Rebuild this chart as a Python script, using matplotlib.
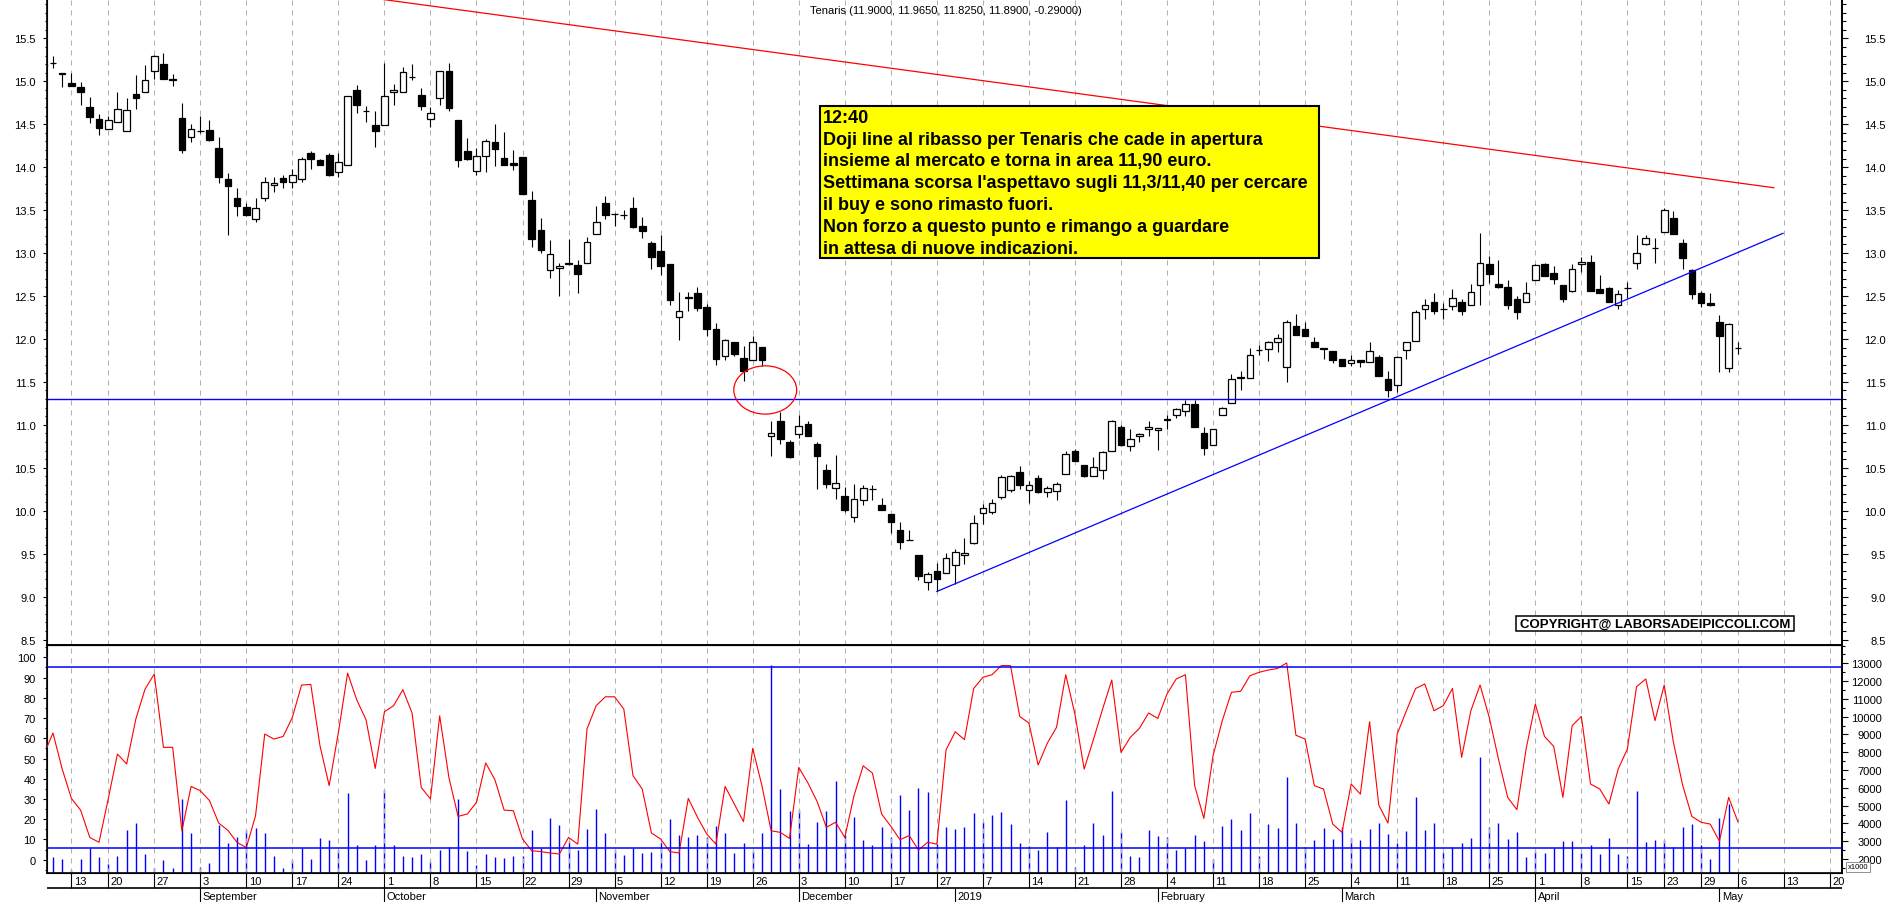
import numpy as np
import pandas as pd
import matplotlib
matplotlib.use("Agg")
import matplotlib.pyplot as plt
from matplotlib.patches import Rectangle, Ellipse
from matplotlib.ticker import MultipleLocator, FixedLocator, FormatStrFormatter, FuncFormatter

plt.rcParams['font.family'] = ['Liberation Sans', 'DejaVu Sans']

# trading calendar, Borsa Italiana closures removed
holidays = ['2018-08-15', '2018-12-24', '2018-12-25', '2018-12-26', '2018-12-31',
            '2019-01-01', '2019-04-19', '2019-04-22', '2019-05-01']
days = pd.bdate_range('2018-08-08', '2019-05-06')
days = days[~days.isin(pd.to_datetime(holidays))]
future = pd.bdate_range('2019-05-07', '2019-05-24')

title = 'Tenaris (11.9000, 11.9650, 11.8250, 11.8900, -0.29000)'

opens = [15.18, 15.21, 15.09,
         14.98, 14.93, 14.70, 14.56,
         14.45, 14.53, 14.42, 14.85, 14.87,
         15.12, 15.20, 15.03, 14.57, 14.35,
         14.42, 14.43, 14.22, 13.86, 13.64,
         13.54, 13.40, 13.64, 13.79, 13.87,
         13.83, 13.86, 14.17, 14.08, 14.14,
         13.94, 14.03, 14.90, 14.65, 14.49,
         14.49, 14.87, 14.88, 15.05, 14.84,
         14.56, 14.81, 15.12, 14.55, 14.19,
         13.95, 14.13, 14.29, 14.11, 14.05,
         14.12, 13.62, 13.27, 12.80, 12.83,
         12.87, 12.86, 12.89, 13.22, 13.58,
         13.45, 13.44, 13.52, 13.31, 13.12,
         13.02, 12.87, 12.25, 12.48, 12.54,
         12.37, 12.12, 11.80, 11.97, 11.78,
         11.75, 11.91, 10.87, 11.04, 10.80,
         10.89, 11.01, 10.78, 10.47, 10.26,
         10.17, 9.93, 10.12, 10.25, 10.07,
         9.96, 9.78, 9.66, 9.48, 9.17,
         9.30, 9.28,
         9.37, 9.49, 9.63,
         9.97, 9.98, 10.16, 10.24, 10.45,
         10.24, 10.38, 10.22, 10.23, 10.43,
         10.69, 10.53, 10.41, 10.47, 10.69,
         10.98, 10.75, 10.87, 10.95, 10.94,
         11.06, 11.11, 11.16, 11.24, 10.90,
         10.77, 11.11, 11.25, 11.55, 11.54,
         11.87, 11.88, 11.97, 11.67, 12.15,
         12.12, 11.97, 11.89, 11.86, 11.77,
         11.72, 11.76, 11.73, 11.79, 11.53,
         11.46, 11.87, 11.98, 12.345, 12.43,
         12.35, 12.38, 12.43, 12.39, 12.63,
         12.87, 12.64, 12.60, 12.47, 12.43,
         12.69, 12.87, 12.77, 12.63, 12.56,
         12.87, 12.90, 12.58, 12.59, 12.40,
         12.59, 12.88, 13.11, 13.06,
         13.24, 13.41, 13.12, 12.80,
         12.54, 12.42, 12.20, 11.66,
         11.90]

highs = [15.25, 15.30, 15.09,
         15.10, 14.99, 14.82, 14.62,
         14.60, 14.87, 14.81, 15.07, 15.19,
         15.31, 15.33, 15.09, 14.75, 14.50,
         14.60, 14.55, 14.35, 13.93, 13.76,
         13.58, 13.64, 13.88, 13.88, 13.91,
         13.98, 14.12, 14.19, 14.10, 14.17,
         14.16, 14.83, 14.96, 14.71, 14.65,
         15.21, 14.97, 15.17, 15.20, 14.92,
         14.70, 15.12, 15.21, 14.55, 14.34,
         14.22, 14.33, 14.50, 14.41, 14.20,
         14.12, 13.72, 13.41, 13.15, 12.89,
         13.16, 12.92, 13.19, 13.55, 13.67,
         13.47, 13.50, 13.65, 13.42, 13.14,
         13.21, 12.87, 12.55, 12.55, 12.60,
         12.41, 12.19, 12.00, 11.97, 11.92,
         12.03, 11.91, 11.05, 11.15, 10.82,
         11.11, 11.05, 10.80, 10.55, 10.65,
         10.28, 10.31, 10.30, 10.30, 10.15,
         9.96, 9.87, 9.78, 9.48, 9.29,
         9.39, 9.51,
         9.56, 9.68, 9.95,
         10.08, 10.14, 10.42, 10.42, 10.52,
         10.35, 10.42, 10.29, 10.33, 10.70,
         10.72, 10.53, 10.62, 10.70, 11.06,
         11.00, 10.95, 10.91, 11.04, 10.96,
         11.11, 11.20, 11.29, 11.29, 10.97,
         10.95, 11.21, 11.59, 11.63, 11.89,
         11.93, 11.98, 12.06, 12.22, 12.29,
         12.20, 12.02, 11.90, 11.86, 11.77,
         11.81, 11.76, 11.96, 11.81, 11.63,
         11.80, 11.97, 12.34, 12.47, 12.54,
         12.42, 12.58, 12.47, 12.64, 13.23,
         12.97, 12.92, 12.69, 12.50, 12.66,
         12.87, 12.89, 12.85, 12.63, 12.87,
         12.95, 12.98, 12.75, 12.61, 12.57,
         12.66, 13.21, 13.21, 13.18,
         13.53, 13.49, 13.16, 12.81,
         12.56, 12.54, 12.28, 12.19,
         11.965]

lows = [15.12, 15.15, 14.93,
        14.95, 14.72, 14.51, 14.37,
        14.45, 14.53, 14.42, 14.68, 14.87,
        15.03, 15.03, 14.95, 14.17, 14.29,
        14.40, 14.31, 13.82, 13.21, 13.43,
        13.43, 13.36, 13.61, 13.71, 13.76,
        13.76, 13.83, 13.98, 14.02, 13.90,
        13.89, 14.03, 14.63, 14.53, 14.24,
        14.49, 14.72, 14.88, 15.01, 14.66,
        14.47, 14.72, 14.65, 14.00, 14.08,
        13.91, 13.94, 14.01, 14.03, 13.97,
        13.69, 13.07, 13.00, 12.71, 12.50,
        12.86, 12.54, 12.89, 13.22, 13.40,
        13.32, 13.40, 13.29, 13.17, 12.81,
        12.74, 12.39, 11.99, 12.32, 12.32,
        12.03, 11.70, 11.75, 11.80, 11.51,
        11.75, 11.68, 10.64, 10.78, 10.61,
        10.85, 10.87, 10.25, 10.27, 10.14,
        9.98, 9.87, 10.07, 10.13, 10.01,
        9.74, 9.56, 9.66, 9.19, 9.08,
        9.07, 9.28,
        9.15, 9.38, 9.61,
        9.85, 9.96, 10.14, 10.22, 10.25,
        10.09, 10.21, 10.16, 10.13, 10.43,
        10.58, 10.39, 10.41, 10.37, 10.69,
        10.75, 10.69, 10.80, 10.87, 10.71,
        10.95, 11.08, 11.10, 10.98, 10.65,
        10.77, 11.11, 11.25, 11.40, 11.54,
        11.81, 11.74, 11.85, 11.50, 12.05,
        12.04, 11.91, 11.77, 11.72, 11.68,
        11.68, 11.67, 11.73, 11.57, 11.33,
        11.38, 11.77, 11.98, 12.23, 12.29,
        12.23, 12.34, 12.28, 12.39, 12.39,
        12.65, 12.59, 12.35, 12.23, 12.43,
        12.69, 12.73, 12.64, 12.43, 12.55,
        12.78, 12.56, 12.53, 12.43, 12.35,
        12.48, 12.82, 13.09, 12.89,
        13.24, 13.22, 12.81, 12.47,
        12.37, 12.38, 11.62, 11.62,
        11.825]

closes = [15.20, 15.215, 15.09,
          14.95, 14.88, 14.58, 14.46,
          14.55, 14.68, 14.66, 14.80, 15.02,
          15.29, 15.03, 15.02, 14.20, 14.45,
          14.42, 14.32, 13.89, 13.78, 13.55,
          13.44, 13.52, 13.83, 13.81, 13.83,
          13.91, 14.10, 14.10, 14.02, 13.91,
          14.06, 14.83, 14.72, 14.65, 14.42,
          14.83, 14.90, 15.11, 15.05, 14.71,
          14.63, 15.12, 14.69, 14.08, 14.09,
          14.13, 14.30, 14.21, 14.03, 14.02,
          13.69, 13.16, 13.03, 12.99, 12.85,
          12.89, 12.76, 13.13, 13.36, 13.44,
          13.45, 13.44, 13.30, 13.26, 12.96,
          12.85, 12.45, 12.33, 12.48, 12.36,
          12.12, 11.77, 11.99, 11.83, 11.63,
          11.97, 11.75, 10.90, 10.84, 10.62,
          10.99, 10.87, 10.64, 10.31, 10.32,
          10.01, 10.14, 10.27, 10.25, 10.01,
          9.87, 9.64, 9.66, 9.24, 9.26,
          9.20, 9.45,
          9.52, 9.51, 9.86,
          10.03, 10.09, 10.39, 10.41, 10.30,
          10.30, 10.22, 10.27, 10.31, 10.66,
          10.58, 10.41, 10.51, 10.68, 11.05,
          10.76, 10.84, 10.89, 10.97, 10.96,
          11.06, 11.18, 11.24, 10.98, 10.73,
          10.95, 11.20, 11.53, 11.55, 11.81,
          11.87, 11.96, 12.01, 12.20, 12.05,
          12.04, 11.91, 11.88, 11.75, 11.68,
          11.75, 11.73, 11.86, 11.57, 11.40,
          11.79, 11.97, 12.31, 12.39, 12.32,
          12.35, 12.48, 12.32, 12.55, 12.89,
          12.76, 12.60, 12.39, 12.31, 12.54,
          12.86, 12.73, 12.70, 12.46, 12.82,
          12.90, 12.56, 12.53, 12.43, 12.52,
          12.59, 13.00, 13.17, 13.06,
          13.50, 13.22, 12.94, 12.52,
          12.42, 12.39, 12.04, 12.18,
          11.89]

# oscillator (left scale 0-100)
oscillator = [51.9, 62.6, 44.8,
              30.3, 24.5, 11.0, 8.6,
              30.0, 52.2, 47.3, 69.5, 84.3,
              91.7, 55.5, 55.5, 14.3, 36.2,
              34.1, 29.2, 18.1, 14.5, 8.5,
              6.0, 21.7, 62.1, 59.6, 60.9,
              70.3, 86.3, 86.6, 56.3, 36.6,
              62.9, 92.2, 78.9, 69.2, 45.1,
              73.1, 76.1, 84.0, 72.5, 35.7,
              30.0, 71.1, 40.7, 21.4, 22.6,
              28.3, 47.8, 39.5, 24.5, 24.2,
              10.2, 4.4, 4.0, 3.3, 2.8,
              11.0, 7.7, 64.6, 76.1, 80.5,
              80.5, 74.4, 41.5, 34.9, 13.2,
              10.2, 4.0, 3.3, 30.3, 21.0,
              12.7, 7.7, 36.2, 27.5, 18.8,
              55.0, 36.6, 14.3, 13.5, 10.5,
              45.6, 37.9, 28.7, 16.0, 18.5,
              11.0, 31.6, 46.4, 42.8, 22.6,
              16.5, 9.9, 11.9, 4.8, 8.6,
              7.7, 54.3,
              63.2, 59.3, 84.6,
              90.1, 91.4, 95.9, 95.9, 70.8,
              67.5, 46.8, 57.6, 65.4, 91.4,
              71.9, 44.8, 59.3, 74.4, 88.8,
              53.0, 60.4, 64.9, 72.5, 69.8,
              81.9, 89.3, 91.4, 36.6, 20.4,
              51.4, 68.7, 82.7, 83.2, 90.9,
              92.6, 93.7, 94.5, 97.2, 61.5,
              59.6, 36.6, 34.9, 17.6, 13.5,
              37.4, 32.4, 68.2, 27.0, 18.1,
              62.1, 73.6, 84.6, 86.8, 73.6,
              76.1, 84.6, 50.6, 73.6, 86.3,
              70.3, 49.7, 30.8, 24.7, 54.7,
              76.9, 60.9, 56.0, 30.8, 66.2,
              70.8, 37.4, 34.9, 27.5, 44.8,
              54.7, 85.5, 89.3, 68.7,
              86.3, 58.0, 36.9, 21.4,
              18.5, 17.6, 9.1, 30.8,
              18.8]

# volume in thousands (right scale x1000)
volume = [2.0, 2.09, 2.0,
          1.4, 2.0, 2.6, 2.09,
          1.72, 2.15, 3.63, 4.02, 2.28,
          1.51, 1.94, 1.48, 5.37, 3.46,
          1.55, 1.78, 3.91, 2.90, 3.22,
          3.65, 3.72, 3.46, 2.19, 1.48,
          1.94, 2.6, 2.0, 3.18, 3.09,
          2.52, 5.71, 2.81, 1.94, 2.79,
          5.90, 2.79, 2.15, 2.09, 2.28,
          1.87, 2.52, 2.66, 5.37, 2.47,
          1.66, 2.28, 2.09, 2.04, 2.19,
          2.19, 3.63, 2.6, 4.29, 3.91,
          3.03, 2.52, 3.69, 4.81, 3.46,
          2.52, 2.22, 2.6, 2.34, 2.41,
          2.97, 4.25, 3.35, 3.24, 3.35,
          3.22, 3.87, 3.46, 2.34, 2.90,
          2.47, 3.46, 12.9, 5.93, 4.72,
          4.77, 2.84, 4.10, 4.72, 6.40,
          3.35, 4.38, 3.09, 2.79, 3.82,
          3.22, 5.60, 4.77, 5.99, 5.78,
          2.84, 3.82,
          3.69, 3.82, 4.59,
          4.10, 4.47, 4.62, 3.97, 2.90,
          2.71, 2.52, 3.50, 2.66, 5.32,
          1.53, 2.79, 4.02, 3.35, 5.84,
          3.54, 2.15, 2.09, 3.63, 3.31,
          3.22, 2.52, 2.6, 3.35, 2.99,
          2.0, 3.87, 4.25, 3.63, 4.59,
          2.19, 3.97, 3.74, 6.63, 4.02,
          2.66, 3.07, 3.74, 3.12, 3.78,
          3.18, 3.07, 3.69, 4.02, 3.41,
          2.90, 3.56, 5.50, 3.63, 4.02,
          2.41, 2.66, 2.90, 3.18, 7.71,
          3.82, 4.02, 3.12, 3.54, 2.09,
          2.47, 2.34, 2.62, 2.99, 2.99,
          2.34, 2.79, 2.28, 3.16, 2.28,
          2.19, 5.80, 2.94, 3.07,
          3.07, 2.66, 3.78, 3.97,
          2.79, 2.0, 4.30, 5.09,
          1.21]

# drawn studies (x in trading-day positions, y in price)
resist_x, resist_y = [36.46, 187.9], [15.958, 13.761]
support_x, support_y = [97.0, 188.9], [9.06, 13.23]
support_level = 11.30
circle_xy, circle_w, circle_h = (78.36, 11.406), 6.83, 0.562
osc_levels = [95.0, 5.6]

note_lines = ['12:40',
              'Doji line al ribasso per Tenaris che cade in apertura',
              'insieme al mercato e torna in area 11,90 euro.',
              "Settimana scorsa l'aspettavo sugli 11,3/11,40 per cercare",
              'il buy e sono rimasto fuori.',
              'Non forzo a questo punto e rimango a guardare',
              'in attesa di nuove indicazioni.']
copyright_text = 'COPYRIGHT@ LABORSADEIPICCOLI.COM'
month_names = ['January', 'February', 'March', 'April', 'May', 'June', 'July',
               'August', 'September', 'October', 'November', 'December']

o, h, l, c = (np.array(v) for v in (opens, highs, lows, closes))
x = np.arange(len(days))
all_days = days.append(future)

# week and month marks
week_pos, month_pos = [], []
s = pd.Series(np.arange(len(all_days)), index=all_days)
for per, i in s.groupby(all_days.to_period('W')).first().items():
    if per.start_time < all_days[0]:
        continue
    if i > 0 and all_days[i - 1].year != all_days[i].year:
        continue
    week_pos.append(i)
for per, i in s.groupby(all_days.to_period('M')).first().items():
    if i == 0:
        continue
    month_pos.append(i)

W, H = 1890, 903
fig = plt.figure(figsize=(W / 100, H / 100), dpi=100)
fig.patch.set_facecolor('white')
left = 46.9 / W
width = (1841.9 - 46.9) / W
ax = fig.add_axes([left, 1 - 646 / H, width, 646 / H])
ax2 = fig.add_axes([left, 1 - 874 / H, width, 228 / H], sharex=ax)
axd = fig.add_axes([left, 0, width, 29 / H], sharex=ax)
ax.set_xlim(0.34, 195.3)

grid_kw = dict(color='#b0b0b0', lw=0.75, ls=(0, (4.8, 4.8)), zorder=0.5)
for p in week_pos:
    ax.axvline(p, **grid_kw)
    ax2.axvline(p, **grid_kw)

# candles
up = c >= o
bot = np.minimum(o, c)
hgt = np.maximum(np.abs(c - o), 0.003)
ax.vlines(x, l, h, color='black', lw=0.8, zorder=2)
ax.bar(x[up], hgt[up], bottom=bot[up], width=0.72, facecolor='white',
       edgecolor='black', linewidth=0.9, zorder=3)
ax.bar(x[~up], hgt[~up], bottom=bot[~up], width=0.72, facecolor='black',
       edgecolor='black', linewidth=0.9, zorder=3)

ax.plot(resist_x, resist_y, color='red', lw=0.9, zorder=4)
ax.plot(support_x, support_y, color='blue', lw=0.9, zorder=4)
ax.axhline(support_level, color='blue', lw=1.0, zorder=4)
ax.add_patch(Ellipse(circle_xy, circle_w, circle_h, fill=False, edgecolor='red', lw=0.9, zorder=4))

ax.set_ylim(8.437, 15.958)
ax.spines['top'].set_visible(False)
for sp in ('left', 'right', 'bottom'):
    ax.spines[sp].set_linewidth(1.2)
ax.tick_params(axis='x', which='both', bottom=False, labelbottom=False)
ax.yaxis.set_major_locator(MultipleLocator(0.5))
ax.yaxis.set_minor_locator(MultipleLocator(0.1))
ax.yaxis.set_major_formatter(FormatStrFormatter('%.1f'))
ax.tick_params(axis='y', which='major', length=3.2, width=0.8, pad=4.8, labelsize=8)
ax.tick_params(axis='y', which='minor', length=1.8, width=0.8)

axr = ax.twinx()
axr.set_ylim(ax.get_ylim())
axr.spines['top'].set_visible(False)
axr.spines['right'].set_linewidth(1.2)
axr.yaxis.set_major_locator(FixedLocator(np.arange(8.5, 15.51, 0.5)))
axr.yaxis.set_minor_locator(MultipleLocator(0.1))
axr.yaxis.set_major_formatter(FormatStrFormatter('%.1f'))
axr.tick_params(axis='y', which='major', length=4.3, width=0.8, pad=27.4, labelsize=8)
axr.tick_params(axis='y', which='minor', length=2.9, width=0.8)
for t in axr.get_yticklabels():
    t.set_horizontalalignment('right')

# lower panel
ax2v = ax2.twinx()
vol_floor = 1.213
ax2v.set_ylim(vol_floor, 14.03)
ax2v.vlines(x, vol_floor, volume, color='blue', lw=1.0)
ax2v.yaxis.set_major_locator(FixedLocator(np.arange(2, 14)))
ax2v.yaxis.set_minor_locator(MultipleLocator(0.5))
ax2v.yaxis.set_major_formatter(FuncFormatter(lambda v, p: f"{v * 1000:.0f}"))
ax2v.tick_params(axis='y', which='major', length=4.3, width=0.8, pad=24.5, labelsize=8)
ax2v.tick_params(axis='y', which='minor', length=2.5, width=0.8)
for t in ax2v.get_yticklabels():
    t.set_horizontalalignment('right')
ax2v.spines['right'].set_linewidth(1.2)

ax2.set_zorder(ax2v.get_zorder() + 1)
ax2.patch.set_visible(False)
ax2.plot(x, oscillator, color='red', lw=0.8, zorder=3)
for lv in osc_levels:
    ax2.axhline(lv, color='blue', lw=1.1, zorder=3)
ax2.set_ylim(-6.57, 106.08)
ax2.yaxis.set_major_locator(MultipleLocator(10))
ax2.yaxis.set_minor_locator(MultipleLocator(5))
ax2.yaxis.set_major_formatter(FormatStrFormatter('%d'))
ax2.tick_params(axis='y', which='major', length=3.2, width=0.8, pad=4.8, labelsize=8)
ax2.tick_params(axis='y', which='minor', length=1.8, width=0.8)
ax2.tick_params(axis='x', which='both', bottom=False, labelbottom=False)
for sp in ('left', 'right', 'bottom', 'top'):
    ax2.spines[sp].set_linewidth(1.2)

# date strip
axd.axis('off')
axd.set_ylim(0, 1)
axd.axhline(0.472, color='black', lw=1.2)
axd.vlines(week_pos, 0.472, 1, color='black', lw=0.8)
axd.vlines(month_pos, 0, 0.472, color='black', lw=0.8)
for p in week_pos:
    axd.text(p + 0.25, 0.74, str(all_days[p].day), fontsize=8, ha='left', va='center')
for p in month_pos:
    d = all_days[p]
    lab = str(d.year) if d.month == 1 else month_names[d.month - 1]
    axd.text(p + 0.25, 0.22, lab, fontsize=8, ha='left', va='center')

# texts and boxes
fig.text(946 / W, 1 - 10.5 / H, title, fontsize=8, ha='center', va='center')

fig.add_artist(Rectangle((820 / W, 1 - 258.7 / H), 499.4 / W, 151.4 / H,
                         transform=fig.transFigure, facecolor='#ffff00',
                         edgecolor='black', lw=1.5, zorder=10))
for k, line in enumerate(note_lines):
    fig.text(823 / W, 1 - (118.3 + 21.8 * k) / H, line, fontsize=13, fontweight='bold',
             ha='left', va='center', zorder=11)

fig.add_artist(Rectangle((1516.2 / W, 1 - 632.3 / H), 277.5 / W, 15 / H,
                         transform=fig.transFigure, facecolor='white',
                         edgecolor='black', lw=1.1, zorder=10))
fig.text(1655 / W, 1 - 625 / H, copyright_text, fontsize=9.5, fontweight='bold',
         ha='center', va='center', zorder=11)

fig.text(1858 / W, 1 - 868 / H, 'x1000', fontsize=5.5, ha='center', va='center',
         bbox=dict(facecolor='white', edgecolor='#808080', lw=0.6, pad=1.0))

fig.savefig('out.png', dpi=100)
